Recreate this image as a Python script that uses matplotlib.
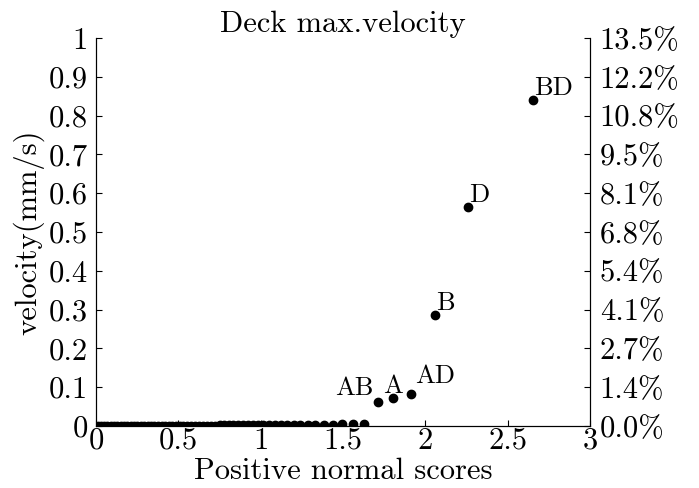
import matplotlib
matplotlib.use("Agg")
import matplotlib.pyplot as plt

plt.rcParams["font.family"] = "serif"
plt.rcParams["font.serif"] = ["cmr10", "DejaVu Serif"]
plt.rcParams["mathtext.fontset"] = "cm"
plt.rcParams["axes.formatter.use_mathtext"] = True

# half-normal scores of the 63 effects (ranked)
scores = [0.01, 0.03, 0.05, 0.07, 0.09, 0.11, 0.13, 0.15, 0.17, 0.19, 0.21, 0.231,
          0.251, 0.272, 0.293, 0.313, 0.334, 0.355, 0.377, 0.398, 0.42, 0.442, 0.464,
          0.486, 0.508, 0.531, 0.554, 0.578, 0.601, 0.625, 0.65, 0.674, 0.7, 0.725,
          0.751, 0.778, 0.805, 0.833, 0.862, 0.891, 0.921, 0.952, 0.983, 1.016, 1.05,
          1.085, 1.122, 1.16, 1.2, 1.242, 1.286, 1.333, 1.383, 1.437, 1.495, 1.559,
          1.63, 1.71, 1.803, 1.915, 2.057, 2.26, 2.655]

# absolute effects on deck max velocity (mm/s)
effects = [0.0001, 0.0001, 0.0002, 0.0002, 0.0002, 0.0003, 0.0003, 0.0003, 0.0004,
           0.0004, 0.0004, 0.0005, 0.0005, 0.0005, 0.0006, 0.0006, 0.0006, 0.0007,
           0.0007, 0.0007, 0.0008, 0.0008, 0.0008, 0.0009, 0.0009, 0.001, 0.001,
           0.001, 0.0011, 0.0011, 0.0012, 0.0012, 0.0013, 0.0013, 0.0014, 0.0014,
           0.0015, 0.0015, 0.0016, 0.0017, 0.0018, 0.0019, 0.002, 0.0021, 0.0022,
           0.0023, 0.0024, 0.0025, 0.0026, 0.0027, 0.0029, 0.0031, 0.0034, 0.0037,
           0.004, 0.0045, 0.006, 0.063, 0.071, 0.083, 0.287, 0.564, 0.840]

# labels of the significant effects
labels = {57: "AB", 58: "A", 59: "AD", 60: "B", 61: "D", 62: "BD"}
label_offsets = {57: (-3, 4.8, "right"), 58: (0, 4, "center"), 59: (2.4, 7.7, "left"),
                 60: (1, 3.4, "left"), 61: (0.5, 4, "left"), 62: (0.5, 3.6, "left")}

yticks = [0, 0.1, 0.2, 0.3, 0.4, 0.5, 0.6, 0.7, 0.8, 0.9, 1]
ytick_labels = ["0", "0.1", "0.2", "0.3", "0.4", "0.5", "0.6", "0.7", "0.8", "0.9", "1"]
pct_labels = ["0.0%", "1.4%", "2.7%", "4.1%", "5.4%", "6.8%", "8.1%", "9.5%",
              "10.8%", "12.2%", "13.5%"]
xticks = [0, 0.5, 1, 1.5, 2, 2.5, 3]
xtick_labels = ["0", "0.5", "1", "1.5", "2", "2.5", "3"]

fig = plt.figure(figsize=(6.99, 4.88), dpi=100)
ax = fig.add_axes([0.1373, 0.127, 0.7067, 0.795])

ax.plot(scores, effects, "o", color="black", markersize=6, zorder=3)

for i, txt in labels.items():
    dx, dy, ha = label_offsets[i]
    ax.annotate(txt, (scores[i], effects[i]), xytext=(dx, dy),
                textcoords="offset points", ha=ha, va="baseline", fontsize=19)

ax.set_xlim(0, 3)
ax.set_ylim(0, 1)
ax.set_xticks(xticks)
ax.set_xticklabels(xtick_labels)
ax.set_yticks(yticks)
ax.set_yticklabels(ytick_labels)
ax.spines["top"].set_visible(False)
ax.tick_params(direction="in", labelsize=22, length=4)
ax.tick_params(axis="x", pad=1)
ax.tick_params(axis="y", pad=6)

ax2 = ax.twinx()
ax2.set_ylim(0, 1)
ax2.set_yticks(yticks)
ax2.set_yticklabels(pct_labels)
ax2.spines["top"].set_visible(False)
ax2.tick_params(direction="in", labelsize=22, length=4, pad=7)

ax.set_title("Deck max.velocity", fontsize=22, pad=4)
ax.set_xlabel("Positive normal scores", fontsize=22, labelpad=2)
ax.set_ylabel("velocity(mm/s)", fontsize=22)
ax.yaxis.set_label_coords(-0.105, 0.5)

fig.savefig("out.png", dpi=100)
